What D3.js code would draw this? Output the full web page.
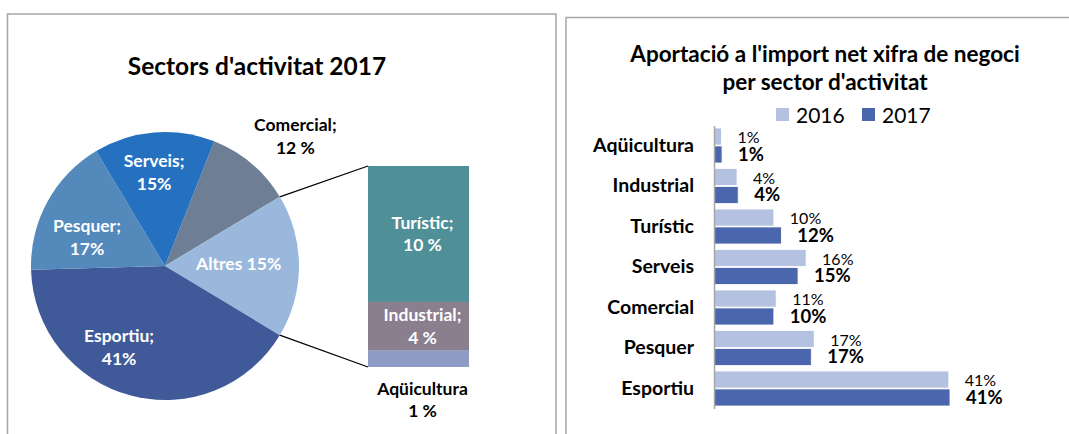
<!DOCTYPE html>
<html>
<head>
<meta charset="utf-8">
<script src="https://cdn.jsdelivr.net/npm/d3@7"></script>
<style>
  body { margin: 0; background: #fff; }
  svg { display: block; font-family: Lato, "Open Sans", sans-serif; }
</style>
</head>
<body>
<div id="chart"></div>
<script>
// pie: main slices (2017 shares) and their typed labels
var pieNames = ["Comercial", "Altres", "Esportiu", "Pesquer", "Serveis"];
var pieValues = [10.4, 17.3, 41.0, 16.9, 14.6];
var pieLabels = [["Comercial;", "12 %"], ["Altres 15%"], ["Esportiu;", "41%"], ["Pesquer;", "17%"], ["Serveis;", "15%"]];
var pieColors = ["#6e7e95", "#9ab8dc", "#405a99", "#5489bc", "#2571bf"];

// the "Altres" column, top to bottom
var subNames = ["Turístic", "Industrial", "Aqüicultura"];
var subValues = [11.7, 4.2, 1.4];
var subLabels = [["Turístic;", "10 %"], ["Industrial;", "4 %"], ["Aqüicultura", "1 %"]];
var subColors = ["#4f8f98", "#8a7f8f", "#8e9bc5"];

// bar chart
var sectors = ["Aqüicultura", "Industrial", "Turístic", "Serveis", "Comercial", "Pesquer", "Esportiu"];
var years = ["2016", "2017"];
var values2016 = [1.3, 4.0, 10.4, 16.0, 10.8, 17.4, 40.8];
var values2017 = [1.4, 4.2, 11.7, 14.6, 10.4, 16.9, 41.0];
var yearColors = ["#b4c1e1", "#4a66ac"];

var W = 1069, H = 434;
var svg = d3.select("#chart").append("svg")
    .attr("width", W)
    .attr("height", H);

svg.append("rect").attr("width", W).attr("height", H).attr("fill", "#fff");

// panel frames
svg.append("rect")
    .attr("x", 7.5).attr("y", 14)
    .attr("width", 548.5).attr("height", 440)
    .attr("fill", "none").attr("stroke", "#a6a6a6").attr("stroke-width", 1.5);
svg.append("rect")
    .attr("x", 566).attr("y", 17.5)
    .attr("width", 520).attr("height", 440)
    .attr("fill", "none").attr("stroke", "#a6a6a6").attr("stroke-width", 1.5);

// ---------- left: pie of pie ----------
svg.append("text")
    .attr("x", 257).attr("y", 75)
    .attr("text-anchor", "middle")
    .style("font-size", "24.5px").style("font-weight", "bold")
    .text("Sectors d'activitat 2017");

var cx = 165, cy = 266, radius = 134;
var total = d3.sum(pieValues);
var deg = Math.PI / 180;
// "Altres" slice centred on 3 o'clock
var start = 90 * deg - (pieValues[1] / 2 + pieValues[0]) / total * 2 * Math.PI;

var pie = d3.pie().sort(null).value(function(d) { return d; })
    .startAngle(start).endAngle(start + 2 * Math.PI);
var arcs = pie(pieValues);

var arc = d3.arc().innerRadius(0).outerRadius(radius);

var pieG = svg.append("g").attr("transform", "translate(" + cx + "," + cy + ")");
pieG.selectAll("path")
    .data(arcs)
    .enter().append("path")
    .attr("d", arc)
    .attr("fill", function(d, i) { return pieColors[i]; })
    .attr("stroke", "none");

// label placement: radius as a share of the pie radius, and a turn in degrees off the slice middle
var labelRadius = [1.37, 0.55, 0.70, 0.62, 0.70];
var labelTurn = [5, -1.5, 14.6, -8.7, -2];

pieG.selectAll("text.pl")
    .data(arcs)
    .enter().append("text")
    .attr("class", "pl")
    .attr("text-anchor", "middle")
    .style("font-size", "17.5px").style("font-weight", "bold")
    .attr("fill", function(d, i) { return i === 0 ? "#000" : "#fff"; })
    .each(function(d, i) {
      var a = (d.startAngle + d.endAngle) / 2 + labelTurn[i] * deg;
      var r = radius * labelRadius[i];
      var px = r * Math.sin(a), py = -r * Math.cos(a);
      var lines = pieLabels[i];
      var t = d3.select(this);
      lines.forEach(function(s, j) {
        t.append("tspan")
          .attr("x", px)
          .attr("y", py + 6 + (j - (lines.length - 1) / 2) * 23)
          .text(s);
      });
    });

// column for "Altres"
var colX = 368, colW = 101, colTop = 166, colBottom = 367;
var colY = d3.scaleLinear().domain([0, d3.sum(subValues)]).range([colTop, colBottom]);
var cum = 0;
var stack = subValues.map(function(v) { var o = { y0: cum, y1: cum + v }; cum += v; return o; });

svg.selectAll("rect.col")
    .data(stack)
    .enter().append("rect")
    .attr("class", "col")
    .attr("x", colX).attr("width", colW)
    .attr("y", function(d) { return colY(d.y0); })
    .attr("height", function(d) { return colY(d.y1) - colY(d.y0); })
    .attr("fill", function(d, i) { return subColors[i]; });

// connector lines from the "Altres" slice edges
var altres = arcs[1];
[altres.startAngle, altres.endAngle].forEach(function(a, k) {
  svg.append("line")
      .attr("x1", cx + radius * Math.sin(a))
      .attr("y1", cy - radius * Math.cos(a))
      .attr("x2", colX)
      .attr("y2", k === 0 ? colTop : colBottom)
      .attr("stroke", "#000").attr("stroke-width", 1.2);
});

svg.selectAll("text.cl")
    .data(stack)
    .enter().append("text")
    .attr("class", "cl")
    .attr("text-anchor", "middle")
    .style("font-size", "17.5px").style("font-weight", "bold")
    .attr("fill", function(d, i) { return i === 2 ? "#000" : "#fff"; })
    .each(function(d, i) {
      var t = d3.select(this);
      var mid = i === 2 ? colBottom + 33 : (colY(d.y0) + colY(d.y1)) / 2;
      subLabels[i].forEach(function(s, j) {
        t.append("tspan")
          .attr("x", colX + colW / 2 + 4)
          .attr("y", mid + 6 + (j - 0.5) * 22.5)
          .text(s);
      });
    });

// ---------- right: horizontal bars ----------
var titleX = 825;
svg.append("text")
    .attr("x", titleX).attr("y", 62)
    .attr("text-anchor", "middle")
    .style("font-size", "22.5px").style("font-weight", "bold")
    .text("Aportació a l'import net xifra de negoci");
svg.append("text")
    .attr("x", titleX).attr("y", 90)
    .attr("text-anchor", "middle")
    .style("font-size", "22.5px").style("font-weight", "bold")
    .text("per sector d'activitat");

var legend = svg.append("g").selectAll("g")
    .data(years)
    .enter().append("g")
    .attr("transform", function(d, i) { return "translate(" + (776 + i * 86) + ",108)"; });
legend.append("rect")
    .attr("width", 13).attr("height", 13)
    .attr("fill", function(d, i) { return yearColors[i]; });
legend.append("text")
    .attr("x", 20).attr("y", 15)
    .style("font-size", "21px")
    .text(function(d) { return d; });

var y = d3.scaleBand()
    .domain(sectors)
    .range([125.5, 408.5])
    .paddingInner(0.136)
    .paddingOuter(0.062);

var ySub = d3.scaleBand()
    .domain(years)
    .range([0, y.bandwidth()])
    .paddingInner(0.05);

var x = d3.scaleLinear()
    .domain([0, 45])
    .range([714, 973]);

var fmt = d3.format(".0f");

var rows = sectors.map(function(s, i) {
  return { name: s, vals: [values2016[i], values2017[i]] };
});

var barG = svg.append("g");
var row = barG.selectAll("g.row")
    .data(rows)
    .enter().append("g")
    .attr("class", "row")
    .attr("transform", function(d) { return "translate(0," + y(d.name) + ")"; });

row.selectAll("rect")
    .data(function(d) { return d.vals; })
    .enter().append("rect")
    .attr("x", x(0))
    .attr("y", function(d, i) { return ySub(years[i]); })
    .attr("width", function(d) { return x(d) - x(0); })
    .attr("height", ySub.bandwidth())
    .attr("fill", function(d, i) { return yearColors[i]; })
    .attr("stroke", "#fff").attr("stroke-width", 0.8);

row.selectAll("text.val")
    .data(function(d) { return d.vals; })
    .enter().append("text")
    .attr("class", "val")
    .attr("x", function(d) { return x(d) + 16; })
    .attr("y", function(d, i) { return ySub(years[i]) + ySub.bandwidth() - 2; })
    .style("font-size", function(d, i) { return i === 0 ? "16px" : "18.5px"; })
    .style("font-weight", function(d, i) { return i === 0 ? "normal" : "bold"; })
    .text(function(d) { return fmt(d) + "%"; });

var yAxis = d3.axisLeft(y).tickSize(0).tickPadding(20);
var ax = svg.append("g")
    .attr("transform", "translate(" + x(0) + ",0)")
    .call(yAxis);
ax.select(".domain").attr("stroke", "#a6a6a6").attr("stroke-width", 1.5);
ax.selectAll("text")
    .style("font-size", "19.5px").style("font-weight", "bold")
    .style("font-family", "Lato, 'Open Sans', sans-serif")
    .attr("fill", "#000");
</script>
</body>
</html>
